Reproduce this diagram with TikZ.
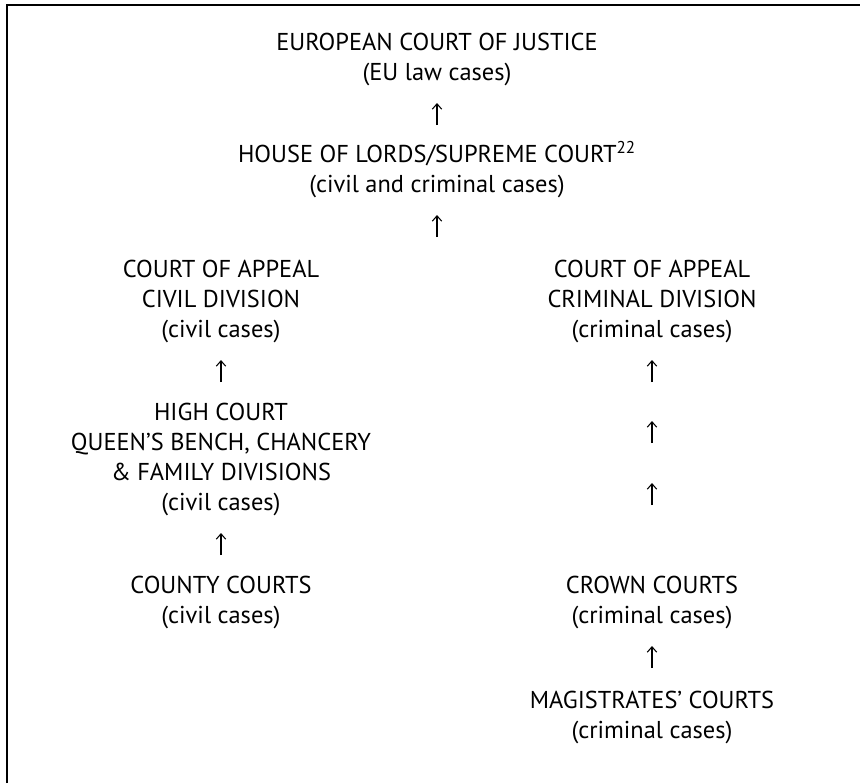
\documentclass[tikz,border=0pt]{standalone}
\usepackage{fontspec}
\setmainfont{PT Sans}
\usetikzlibrary{arrows.meta,positioning,calc}

\begin{document}
\begin{tikzpicture}[x=0.75pt, y=0.75pt,
    court/.style={align=center, inner sep=0pt, anchor=base, font=\fontsize{18.3}{22.5}\selectfont},
    uparr/.style={-{Straight Barb[length=4pt,width=7pt]}, line width=0.8pt}]
    \useasboundingbox (0,0) rectangle (860,-783);

    % Frame
    \draw[line width=1pt] (7,-783) -- (7,-5) -- (860,-5);

    % Top courts
    \node[court] (ecj) at (437,-80) {EUROPEAN COURT OF JUSTICE\\(EU law cases)};
    \node[court] (hol) at (437,-192) {HOUSE OF LORDS/SUPREME COURT\textsuperscript{22}\\(civil and criminal cases)};

    % Civil side
    \node[court] (caciv) at (221,-337) {COURT OF APPEAL\\CIVIL DIVISION\\(civil cases)};
    \node[court] (hc) at (221,-510) {HIGH COURT\\QUEEN’S BENCH, CHANCERY\\\& FAMILY DIVISIONS\\(civil cases)};
    \node[court] (county) at (221,-623) {COUNTY COURTS\\(civil cases)};

    % Criminal side
    \node[court] (cacrim) at (652,-337) {COURT OF APPEAL\\CRIMINAL DIVISION\\(criminal cases)};
    \node[court] (crown) at (652,-623) {CROWN COURTS\\(criminal cases)};
    \node[court] (mag) at (652,-738) {MAGISTRATES’ COURTS\\(criminal cases)};

    % Appeal arrows
    \draw[uparr] ($(ecj.base)+(0,-45)$) -- ++(0,22);
    \draw[uparr] ($(hol.base)+(0,-45)$) -- ++(0,22);
    \draw[uparr] ($(caciv.base)+(0,-45)$) -- ++(0,22);
    \draw[uparr] ($(hc.base)+(0,-45)$) -- ++(0,22);
    \foreach \d in {45,106,168}
        \draw[uparr] ($(cacrim.base)+(0,-\d)$) -- ++(0,22);
    \draw[uparr] ($(crown.base)+(0,-45)$) -- ++(0,22);
\end{tikzpicture}
\end{document}
